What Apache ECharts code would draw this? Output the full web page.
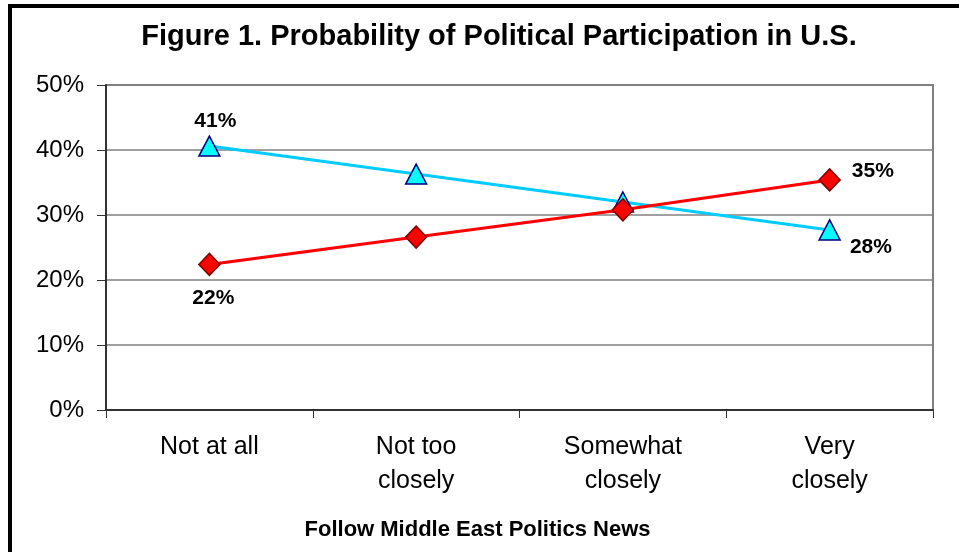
<!DOCTYPE html>
<html>
<head>
<meta charset="utf-8">
<script src="https://cdn.jsdelivr.net/npm/echarts@6/dist/echarts.min.js"></script>
<style>
  html, body { margin: 0; padding: 0; background: #fff; }
  #chart { width: 959px; height: 552px; }
</style>
</head>
<body>
<div id="chart"></div>
<script>
// 数据
const categories = ["Not at all", "Not too\nclosely", "Somewhat\nclosely", "Very\nclosely"];
const blueValues = [40.6, 36.3, 32.0, 27.7];
const redValues = [22.4, 26.6, 30.8, 35.4];
const yTicks = [0, 10, 20, 30, 40, 50];

const font = "Liberation Sans, Arial, sans-serif";

let chart = echarts.init(document.getElementById("chart"));

// 只在首尾两点显示标签
function withLabels(values, first, last) {
	return values.map(function (v, i) {
		if (i === 0) return { value: v, label: Object.assign({ show: true }, first) };
		if (i === values.length - 1) return { value: v, label: Object.assign({ show: true }, last) };
		return v;
	});
}

const labelStyle = {
	fontFamily: font,
	fontSize: 21,
	fontWeight: "bold",
	color: "#000",
	formatter: function (p) {
		return Math.round(p.value) + "%";
	},
};

const option = {
	animation: false,
	backgroundColor: "#fff",
	title: {
		text: "Figure 1. Probability of Political Participation in U.S.",
		left: 494,
		top: 17,
		textAlign: "center",
		textStyle: {
			fontFamily: font,
			fontSize: 29,
			fontWeight: "bold",
			color: "#000",
		},
	},
	graphic: [
		{
			type: "polyline",
			shape: { points: [[10, 552], [10, 6], [959, 6]] },
			style: { stroke: "#000", lineWidth: 4, fill: null },
		},
	],
	grid: {
		left: 106,
		right: 26,
		top: 85,
		bottom: 142,
		show: true,
		borderColor: "#808080",
		borderWidth: 2,
		containLabel: false,
	},
	xAxis: {
		type: "category",
		data: categories,
		boundaryGap: true,
		name: "Follow Middle East Politics News",
		nameLocation: "middle",
		nameGap: 106,
		nameTextStyle: {
			fontFamily: font,
			fontSize: 22,
			fontWeight: "bold",
			color: "#000",
			verticalAlign: "top",
			padding: [3, 84, 0, 0],
		},
		axisLine: { lineStyle: { color: "#333", width: 2 } },
		axisTick: { show: true, length: 8, lineStyle: { color: "#333", width: 1 } },
		axisLabel: {
			margin: 20,
			fontFamily: font,
			fontSize: 25,
			lineHeight: 34,
			color: "#000",
			interval: 0,
		},
	},
	yAxis: {
		type: "value",
		min: yTicks[0],
		max: yTicks[yTicks.length - 1],
		interval: 10,
		axisLine: { show: true, lineStyle: { color: "#333", width: 2 } },
		axisTick: { show: true, length: 9, lineStyle: { color: "#333", width: 1 } },
		splitLine: { show: true, lineStyle: { color: "#808080", width: 1.5 } },
		axisLabel: {
			margin: 22,
			fontFamily: font,
			fontSize: 24,
			color: "#000",
			formatter: "{value}%",
		},
	},
	series: [
		{
			name: "blue",
			type: "line",
			data: withLabels(
				blueValues,
				Object.assign({ position: "top", distance: 4, offset: [6, 0] }, labelStyle),
				Object.assign({ position: "right", offset: [4, 17] }, labelStyle)
			),
			symbol: "triangle",
			symbolSize: [21, 20],
			lineStyle: { color: "#00CCFF", width: 3 },
			itemStyle: { color: "#00FFFF", borderColor: "#000080", borderWidth: 1.5 },
			z: 2,
		},
		{
			name: "red",
			type: "line",
			data: withLabels(
				redValues,
				Object.assign({ position: "bottom", distance: 12, offset: [4, 0] }, labelStyle),
				Object.assign({ position: "right", offset: [6, -9] }, labelStyle)
			),
			symbol: "diamond",
			symbolSize: [21, 22],
			lineStyle: { color: "#FF0000", width: 3 },
			itemStyle: { color: "#FF0000", borderColor: "#800000", borderWidth: 1.5 },
			z: 3,
		},
	],
};

chart.setOption(option);
</script>
</body>
</html>
